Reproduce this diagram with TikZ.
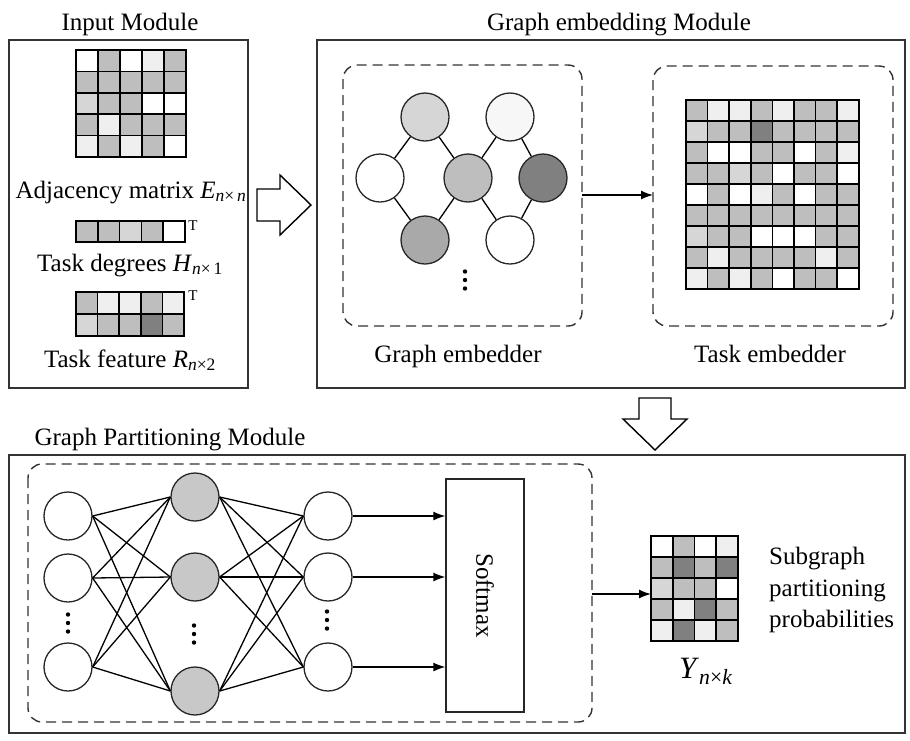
\documentclass[tikz,border=0pt]{standalone}
\usepackage{fontspec}
\setmainfont{Liberation Serif}
\usetikzlibrary{arrows.meta}

% cell shades
\definecolor{cW}{HTML}{FFFFFF}
\definecolor{cV}{HTML}{EFEFEF}
\definecolor{cL}{HTML}{D6D6D6}
\definecolor{cG}{HTML}{BEBEBE}
\definecolor{cM}{HTML}{A9A9A9}
\definecolor{cD}{HTML}{808080}
\definecolor{cframe}{HTML}{333333}

% grid of shaded cells: x, y (top left), cell width, cell height, rows
\newcommand\cellgrid[5]{%
  \foreach \rowlist [count=\r] in {#5} {%
    \foreach \cc [count=\k] in \rowlist {%
      \filldraw[fill=c\cc, draw=black, line width=1.7pt]
        ({#1+(\k-1)*#3},{#2+(\r-1)*#4}) rectangle ++(#3,#4);
    }%
  }%
}
% three stacked dots
\newcommand\vdotsat[2]{%
  \foreach \dy in {-8.5,0,8.5} \fill (#1,{#2+\dy}) circle (2.2);
}

\tikzset{
  modbox/.style={draw=cframe, line width=1.6pt},
  subbox/.style={draw=black!80, line width=1.4pt, dash pattern=on 10pt off 6pt, rounded corners=14pt},
  nd/.style={circle, draw=black!85, line width=1.3pt, minimum size=48pt, inner sep=0pt},
  lbl/.style={font=\fontsize{25}{30}\selectfont, inner sep=0pt, anchor=base},
  supT/.style={font=\fontsize{15}{18}\selectfont, inner sep=0pt},
  link/.style={line width=1.3pt, draw=black},
  arr/.style={line width=1.3pt, -{Latex[length=12pt,width=9pt]}},
  hollow/.style={draw=black, line width=1.4pt, fill=white, line join=miter}
}

\begin{document}
\begin{tikzpicture}[x=1pt,y=-1pt]
\useasboundingbox (0,0) rectangle (910,740);

% ---------------- Input module ----------------
\node[lbl] (tin) at (130,30) {Input Module};
\draw[modbox] (9,40) rectangle (248,388);
\cellgrid{76}{50}{22}{21.4}{{W,G,W,V,G},{G,G,G,G,G},{L,G,G,W,W},{G,V,G,G,G},{V,G,V,G,W}}
\node[lbl] (ladj) at (131,198) {Adjacency matrix \textit{E}\textsubscript{\textit{n}×\,\textit{n}}};
\cellgrid{76}{221}{21.8}{21}{{G,G,L,G,W}}
\node[supT] (t1) at (193,225.5) {T};
\node[lbl] (ldeg) at (130,271) {Task degrees \textit{H}\textsubscript{\textit{n}×\,1}};
\cellgrid{76}{292}{21.6}{22}{{G,V,V,G,V},{L,G,G,D,G}}
\node[supT] (t2) at (193,296) {T};
\node[lbl] (lfeat) at (130,367) {Task feature \textit{R}\textsubscript{\textit{n}×2}};

% hollow arrow into the embedding module
\draw[hollow] (257,189) -- (280,189) -- (280,175) -- (311,205) -- (280,235) -- (280,221) -- (257,221) -- cycle;

% ---------------- Graph embedding module ----------------
\node[lbl] (temb) at (619,30) {Graph embedding Module};
\draw[modbox] (317,40) rectangle (905,388);

\draw[subbox] (343,65) rectangle (582,326);
\node[nd, fill=cL] (gtl) at (425,117) {};
\node[nd, fill=cV!50] (gtr) at (510,117) {};
\node[nd, fill=white] (gl) at (380,178) {};
\node[nd, fill=cG] (gm) at (468,178) {};
\node[nd, fill=cD] (gr) at (543,178) {};
\node[nd, fill=cM] (gbl) at (425,240) {};
\node[nd, fill=white] (gbr) at (510,240) {};
\draw[link] (gtl) -- (gl) (gtl) -- (gm) (gl) -- (gbl) (gm) -- (gbl)
            (gm) -- (gtr) (gm) -- (gbr) (gtr) -- (gr) (gr) -- (gbr);
\vdotsat{465}{280}
\node[lbl] (lgemb) at (458,362) {Graph embedder};

\coordinate (gout) at (582,195);
\coordinate (tin2) at (653,195);
\draw[arr] (gout) -- (tin2);

\draw[subbox] (653,66) rectangle (893,326);
\cellgrid{686}{100}{21.6}{21}{{G,V,V,G,V,G,G,V},{L,G,G,D,G,G,G,G},{G,W,W,G,G,W,G,V},{G,G,L,G,W,G,G,W},{W,G,W,V,G,W,G,G},{G,G,G,G,G,G,G,G},{L,G,G,W,W,W,G,G},{G,V,G,G,G,G,V,G},{V,G,V,G,W,G,G,W}}
\node[lbl] (ltemb) at (770,362) {Task embedder};

% hollow arrow down to the partitioning module
\draw[hollow] (639,398) -- (671,398) -- (671,419) -- (687,419) -- (655,450) -- (623,419) -- (639,419) -- cycle;

% ---------------- Graph partitioning module ----------------
\node[lbl] (tpart) at (170,445) {Graph Partitioning Module};
\draw[modbox] (9,455) rectangle (905,733);
\draw[subbox] (28,464) rectangle (592,722);

\node[nd, fill=white] (i1) at (68,516) {};
\node[nd, fill=white] (i2) at (68,578) {};
\node[nd, fill=white] (i3) at (68,667) {};
\vdotsat{68}{623}
\node[nd, fill=cG!85] (h1) at (195,497) {};
\node[nd, fill=cG!85] (h2) at (195,577) {};
\node[nd, fill=cG!85] (h3) at (195,691) {};
\vdotsat{194}{634}
\node[nd, fill=white] (o1) at (328,516) {};
\node[nd, fill=white] (o2) at (328,577) {};
\node[nd, fill=white] (o3) at (328,667) {};
\vdotsat{327}{620}

\foreach \a in {i1,i2,i3} \foreach \b in {h1,h2,h3} \draw[link] (\a.east) -- (\b.west);
\foreach \a in {h1,h2,h3} \foreach \b in {o1,o2,o3} \draw[link] (\a.east) -- (\b.west);

\node[draw=black!85, line width=1.3pt, minimum width=78pt, minimum height=233pt, inner sep=0pt] (smax) at (485,595.5) {};
\node[font=\fontsize{25}{30}\selectfont, inner sep=0pt, rotate=-90] (smaxt) at (smax.center) {Softmax};
\foreach \o in {o1,o2,o3} \draw[arr] (\o.east) -- (\o.east -| smax.west);

\cellgrid{651}{536}{21.7}{21}{{W,G,W,V},{G,D,G,D},{L,G,G,W},{G,V,D,G},{V,D,V,G}}
\coordinate (ymatw) at (651,594);
\coordinate (pout) at (592,594);
\draw[arr] (pout) -- (ymatw);
\node[font=\fontsize{31}{34}\selectfont, inner sep=0pt, anchor=base west] (ylab) at (679,678) {\textit{Y}\textsubscript{\textit{n}×\textit{k}}};
\node[lbl, anchor=base west] (sg1) at (769,564) {Subgraph};
\node[lbl, anchor=base west] (sg2) at (769,596) {partitioning};
\node[lbl, anchor=base west] (sg3) at (769,627) {probabilities};
\end{tikzpicture}
\end{document}
